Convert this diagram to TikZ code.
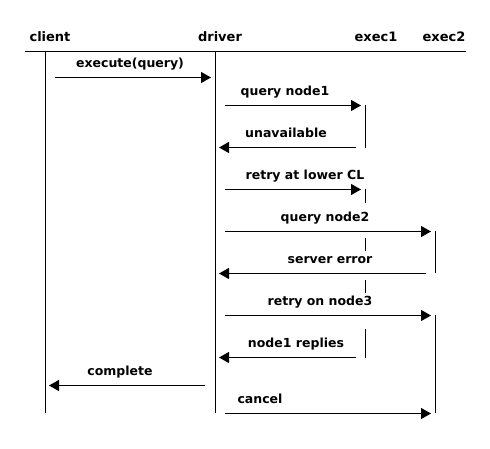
\documentclass[tikz,border=0pt]{standalone}
\usepackage{fontspec}
\setmainfont{DejaVu Sans}
\usetikzlibrary{arrows.meta}
\begin{document}
\begin{tikzpicture}[x=1pt,y=-1pt, line width=0.9pt,
  msg/.style={-{Triangle[length=10pt,width=11pt]}},
  lbl/.style={font=\bfseries\fontsize{12.5}{14}\selectfont, inner sep=0pt, anchor=base},
  head/.style={font=\bfseries\fontsize{13}{15}\selectfont, inner sep=0pt, anchor=base},
  life/.style={line width=0.9pt}]
\useasboundingbox (0,0) rectangle (490,448);
% header
\node[head] (hclient) at (50,41) {client};
\node[head] (hdriver) at (220,41) {driver};
\node[head] (hexec1) at (376,41) {exec1};
\node[head] (hexec2) at (444,41) {exec2};
\coordinate (hl) at (25,51.5);
\coordinate (hr) at (466,51.5);
\draw (hl) -- (hr);
% lifelines
\coordinate (c0) at (45.5,51.5); \coordinate (c1) at (45.5,413);
\coordinate (d0) at (215.5,51.5); \coordinate (d1) at (215.5,413);
\draw[life] (c0) -- (c1);
\draw[life] (d0) -- (d1);
\foreach \a/\b [count=\i] in {105/148,189/203,238/251,280/293,329/358}{
  \coordinate (ea\i) at (365.5,\a); \coordinate (eb\i) at (365.5,\b);
  \draw[life] (ea\i) -- (eb\i);
}
\foreach \a/\b [count=\i] in {231/273,315/413}{
  \coordinate (fa\i) at (435.5,\a); \coordinate (fb\i) at (435.5,\b);
  \draw[life] (fa\i) -- (fb\i);
}
% messages
\coordinate (m1s) at (55,77.5);   \coordinate (m1e) at (211,77.5);
\coordinate (m2s) at (225,105.5); \coordinate (m2e) at (361,105.5);
\coordinate (m3s) at (356,147.5); \coordinate (m3e) at (219,147.5);
\coordinate (m4s) at (225,189.5); \coordinate (m4e) at (361,189.5);
\coordinate (m5s) at (225,231.5); \coordinate (m5e) at (431,231.5);
\coordinate (m6s) at (426,273.5); \coordinate (m6e) at (219,273.5);
\coordinate (m7s) at (225,315.5); \coordinate (m7e) at (431,315.5);
\coordinate (m8s) at (356,357.5); \coordinate (m8e) at (219,357.5);
\coordinate (m9s) at (205,385.5); \coordinate (m9e) at (49,385.5);
\coordinate (m10s) at (225,413.5); \coordinate (m10e) at (431,413.5);
\foreach \i in {1,...,10}{\draw[msg] (m\i s) -- (m\i e);}
% labels
\node[lbl] (l1) at (130,67) {execute(query)};
\node[lbl] (l2) at (285,95.5) {query node1};
\node[lbl] (l3) at (286,137.5) {unavailable};
\node[lbl] (l4) at (305,179.5) {retry at lower CL};
\node[lbl] (l5) at (325,221.5) {query node2};
\node[lbl] (l6) at (330,263.5) {server error};
\node[lbl] (l7) at (320,305.5) {retry on node3};
\node[lbl] (l8) at (296,347.5) {node1 replies};
\node[lbl] (l9) at (120,375.5) {complete};
\node[lbl] (l10) at (260,403.5) {cancel};
\end{tikzpicture}
\end{document}
